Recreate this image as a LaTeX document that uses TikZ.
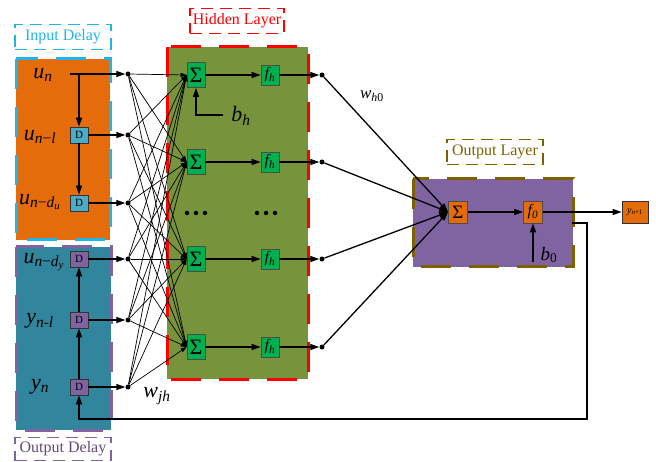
\documentclass[tikz,border=0pt]{standalone}
\usepackage{fontspec}
\setmainfont{Liberation Serif}
\usetikzlibrary{arrows.meta}
\definecolor{cOrange}{HTML}{E46C0A}
\definecolor{cCyan}{HTML}{1FB5EA}
\definecolor{cTeal}{HTML}{31859C}
\definecolor{cPurple}{HTML}{8064A2}
\definecolor{cGreenBg}{HTML}{77933C}
\definecolor{cGreen}{HTML}{00B050}
\definecolor{cBrown}{HTML}{7F6000}
\definecolor{cDBlue}{HTML}{4BACC6}
\definecolor{cPurpleTxt}{HTML}{604A7B}
\newcommand\vsub[2]{\textit{#1}\textsubscript{#2}}
\begin{document}
\begin{tikzpicture}[x=1pt,y=-1pt,
  arr/.style={-{Triangle[length=9pt,width=6pt]}, line width=1.3pt},
  mesh/.style={-{Triangle[length=6pt,width=4pt]}, line width=0.7pt},
  dotn/.style={circle, fill=black, inner sep=0pt, minimum size=5pt},
  smalldot/.style={circle, fill=black, inner sep=0pt, minimum size=4.5pt},
  dbox/.style={draw=black!80, line width=0.7pt, minimum width=18pt, minimum height=16pt, inner sep=0pt, font=\fontsize{11}{12}\selectfont},
  sbox/.style={draw=black!70, line width=0.7pt, minimum width=18pt, minimum height=25pt, inner sep=0pt, font=\fontsize{22}{22}\selectfont},
  fhbox/.style={draw=black!70, fill=cGreen, line width=0.7pt, minimum width=18pt, minimum height=20pt, inner sep=0pt, font=\fontsize{16}{16}\selectfont\itshape},
  bigbox/.style={line width=3pt, dash pattern=on 30pt off 18pt},
  lblbox/.style={line width=1.8pt, dash pattern=on 12pt off 7pt, minimum width=96pt, minimum height=25pt, inner sep=0pt, font=\fontsize{16}{17}\selectfont},
  var/.style={font=\fontsize{22}{24}\selectfont, inner sep=0pt},
  svar/.style={font=\fontsize{17}{19}\selectfont, inner sep=0pt}
]
\useasboundingbox (0,0) rectangle (656,462);

% big regions
\draw[bigbox, draw=cCyan, fill=cOrange] (16,59) rectangle (110,240);
\draw[bigbox, draw=cPurple, fill=cTeal] (16,247) rectangle (111,430);
\draw[bigbox, draw=red, fill=cGreenBg] (167,47) rectangle (308,379);
\draw[bigbox, draw=cBrown, fill=cPurple] (413,179) rectangle (573,267);

% region labels
\node[lblbox, draw=cCyan, text=cCyan] (lin) at (63,37) {Input Delay};
\node[lblbox, draw=red, text=red, minimum width=94pt] (lhid) at (237,21) {Hidden Layer};
\node[lblbox, draw=cBrown, text=cBrown] (lout) at (495,152) {Output Layer};
\node[lblbox, draw=cPurple, text=cPurpleTxt, minimum height=23pt] (lod) at (63,449) {Output Delay};

% input delay
\node[var] (lun) at (43,75) {\vsub{u}{\textit{n}}};
\coordinate (un0) at (70,74);
\coordinate (unb) at (79,74);
\node[dbox, fill=cDBlue] (d1) at (79,135) {D};
\node[dbox, fill=cDBlue] (d2) at (79,203) {D};
\node[var] (lunl) at (40,137) {\vsub{u}{\textit{n}−\textit{l}}};
\node[var] (lund) at (40,202) {\vsub{u}{\textit{n}−\textit{d}\textsubscript{\textit{u}}}};

% output delay
\node[dbox, fill=cPurple] (o1) at (79,259) {D};
\node[dbox, fill=cPurple] (o2) at (79,320) {D};
\node[dbox, fill=cPurple] (o3) at (79,387) {D};
\node[var] (lund2) at (44,262) {\vsub{u}{\textit{n}−\textit{d}\textsubscript{\textit{y}}}};
\node[var] (lynl) at (40,321) {\vsub{y}{\textit{n-l}}};
\node[var] (lyn) at (40,387) {\vsub{y}{\textit{n}}};

% input dots
\node[dotn] (i1) at (128,74) {};
\node[dotn] (i2) at (128,135) {};
\node[dotn] (i3) at (128,203) {};
\node[dotn] (i4) at (128,259) {};
\node[dotn] (i5) at (128,320) {};
\node[dotn] (i6) at (128,387) {};

% hidden nodes
\node[sbox, fill=cGreen] (s1) at (196,75) {Σ};
\node[sbox, fill=cGreen] (s2) at (196,162) {Σ};
\node[sbox, fill=cGreen] (s3) at (196,259) {Σ};
\node[sbox, fill=cGreen] (s4) at (196,347) {Σ};
\node[fhbox] (h1) at (270,75) {\vsub{f}{\textit{h}}};
\node[fhbox] (h2) at (270,162) {\vsub{f}{\textit{h}}};
\node[fhbox] (h3) at (270,259) {\vsub{f}{\textit{h}}};
\node[fhbox] (h4) at (270,347) {\vsub{f}{\textit{h}}};
% ellipsis dots
\foreach \x in {187,196,205} \node[smalldot] (ea\x) at (\x,213) {};
\foreach \x in {257,266,275} \node[smalldot] (eb\x) at (\x,213) {};
\node[dotn] (p1) at (322,75) {};
\node[dotn] (p2) at (322,162) {};
\node[dotn] (p3) at (322,259) {};
\node[dotn] (p4) at (322,347) {};
\coordinate (bh) at (223,115);
\node[var] (lbh) at (241,116) {\vsub{b}{\textit{h}}};
\node[var] (lwjh) at (157,396) {\vsub{w}{\textit{jh}}};
\node[svar] (lwh0) at (372,96) {\vsub{w}{\textit{h}0}};

% output layer
\node[sbox, fill=cOrange, minimum width=19pt, minimum height=22pt, font=\fontsize{19}{19}\selectfont] (os) at (458,212) {Σ};
\node[fhbox, fill=cOrange, minimum width=19pt, minimum height=22pt] (of) at (533,212) {\vsub{f}{0}};
\node[dbox, fill=cOrange, minimum width=26pt, minimum height=22pt, font=\fontsize{10}{10}\selectfont] (yo) at (635,212) {\vsub{y}{\textit{n}+1}};
\coordinate (b0c) at (533,262);
\node[svar, font=\fontsize{19}{21}\selectfont] (lb0) at (549,255) {\vsub{b}{0}};
\coordinate (fb0) at (572,223);
\coordinate (fbc) at (587,419);

% connectors: input delay
\draw[arr] (un0) -- (i1);
\draw[arr] (unb) -- (d1.north);
\draw[arr] (d1.south) -- (d2.north);
\draw[arr] (d1.east) -- (i2);
\draw[arr] (d2.east) -- (i3);
\draw[arr] (o3.north) -- (o2.south);
\draw[arr] (o2.north) -- (o1.south);
\draw[arr] (o1.east) -- (i4);
\draw[arr] (o2.east) -- (i5);
\draw[arr] (o3.east) -- (i6);

% mesh
\foreach \i in {i1,i2,i3,i4,i5,i6}
  \foreach \s in {s1,s2,s3,s4}
    \draw[mesh] (\i) -- (\s.west);

% hidden
\foreach \n in {1,2,3,4} {
  \draw[arr] (s\n) -- (h\n);
  \draw[arr] (h\n) -- (p\n);
  \draw[arr] (p\n) -- (os.west);
}
\draw[arr] (bh) -| (s1.south);

% output
\draw[arr] (os) -- (of);
\draw[arr] (of) -- (yo);
\draw[arr] (b0c) -- (of.south);
\draw[arr] (fb0) -| (fbc) -| (o3.south);
\end{tikzpicture}
\end{document}
